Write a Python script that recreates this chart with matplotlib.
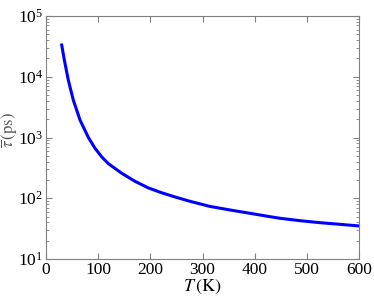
import matplotlib
matplotlib.use('Agg')
import matplotlib.pyplot as plt

plt.rcParams['font.family'] = 'serif'
plt.rcParams['font.serif'] = ['Liberation Serif', 'DejaVu Serif']
plt.rcParams['mathtext.fontset'] = 'stix'

# values
temp = [30.1, 35.1, 42.7, 52.3, 65.2, 81.1, 93.9, 106.8, 119.4, 145.1, 170.6,
        196.1, 221.8, 247.3, 276.0, 314.4, 352.7, 391.0, 429.4, 448.5, 486.9,
        525.2, 563.6, 600]
tau = [33300, 18900, 8850, 4140, 1940, 1005, 665, 480, 372, 258, 190,
       148, 123, 105, 89, 73.3, 64.1, 56.5, 49.7, 46.8, 42.7,
       39.6, 37.2, 35.0]

fig = plt.figure(figsize=(3.74, 2.97), dpi=100)
ax = fig.add_axes([0.123, 0.128, 0.837, 0.818])

ax.semilogy(temp, tau, color='#0000ff', lw=2.2)

ax.set_xlim(0, 600)
ax.set_ylim(10, 1e5)
ax.set_xticks([0, 100, 200, 300, 400, 500, 600])

for s in ax.spines.values():
    s.set_color('#808080')
ax.tick_params(which='both', direction='in', top=True, right=True, color='#808080', labelsize=12.5, pad=2)
ax.tick_params(which='major', length=4)
ax.tick_params(which='minor', length=2)

ax.set_xlabel(r'$T\,(\mathrm{K})$', fontsize=13)
ax.xaxis.set_label_coords(0.5, -0.076)
ax.set_ylabel(r'$\overline{\tau}\,(\mathrm{ps})$', fontsize=12, color='#555555')
ax.yaxis.set_label_coords(-0.083, 0.53)

fig.savefig('out.png', dpi=100)
